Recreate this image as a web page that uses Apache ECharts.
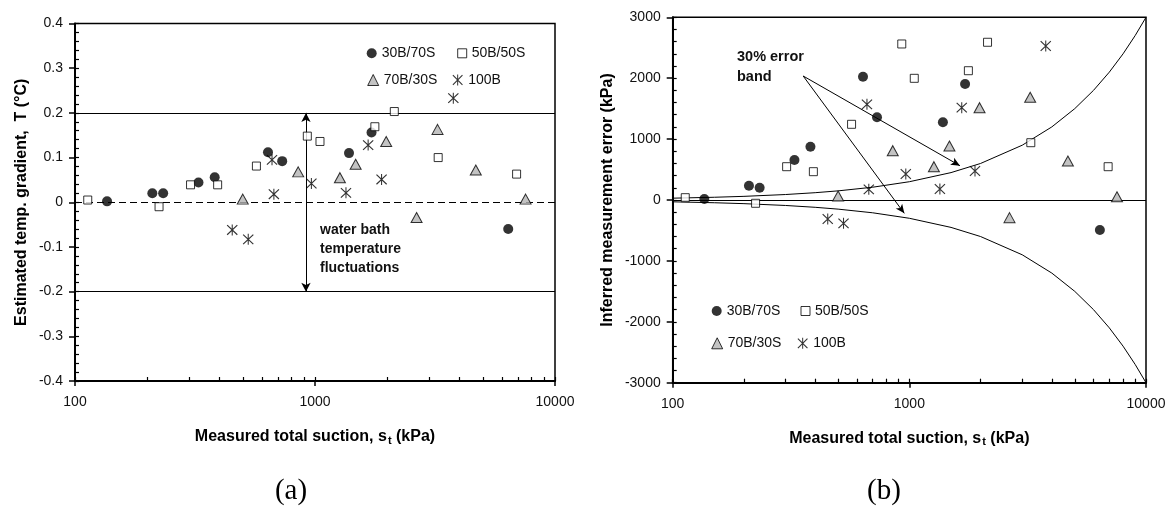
<!DOCTYPE html>
<html>
<head>
<meta charset="utf-8">
<script src="https://cdn.jsdelivr.net/npm/echarts@6/dist/echarts.min.js"></script>
<style>
  html, body { margin: 0; padding: 0; background: #fff; }
  #main { width: 1175px; height: 506px; }
</style>
</head>
<body>
<div id="main"></div>
<script>
// measured suction (kPa), shared by both panels
var circleX = [136, 210, 233, 327, 382, 637, 730, 1386, 1720, 6384];
var squareX = [113, 224, 303, 393, 570, 929, 1049, 1776, 2140, 3260, 6918];
var triangleX = [500, 851, 1270, 1477, 1980, 2650, 3240, 4677, 7540];
var starX = [452, 527, 662, 674, 966, 1346, 1665, 1894, 3770];

// (a) estimated temperature gradient (°C)
var circleT = [0.002, 0.02, 0.02, 0.044, 0.056, 0.112, 0.092, 0.11, 0.156, -0.06];
var squareT = [0.005, -0.01, 0.039, 0.039, 0.081, 0.148, 0.136, 0.169, 0.203, 0.1, 0.063];
var triangleT = [0.007, 0.068, 0.055, 0.085, 0.136, -0.034, 0.163, 0.072, 0.007];
var starT = [-0.062, -0.083, 0.095, 0.018, 0.042, 0.021, 0.128, 0.051, 0.233];

// (b) inferred measurement error (kPa)
var circleE = [16, 235, 202, 657, 875, 2025, 1358, 1276, 1905, -493];
var squareE = [38, -54, 547, 465, 1243, 2562, 1998, 2123, 2590, 941, 547];
var triangleE = [66, 810, 547, 887, 1516, -290, 1686, 640, 54];
var starE = [-312, -383, 1571, 175, 427, 181, 1516, 476, 2529];

// 30% error band
var bandX = [100, 150, 200, 300, 400, 500, 700, 1000, 1500, 2000, 3000, 4000, 5000, 6000, 7000, 8000, 9000, 10000];
var bandUpper = [30, 45, 60, 90, 120, 150, 210, 300, 450, 600, 900, 1200, 1500, 1800, 2100, 2400, 2700, 3000];
var bandLower = [-30, -45, -60, -90, -120, -150, -210, -300, -450, -600, -900, -1200, -1500, -1800, -2100, -2400, -2700, -3000];

var names = ['30B/70S', '50B/50S', '70B/30S', '100B'];
var majorX = [100, 1000, 10000];
var allX = [100, 200, 300, 400, 500, 600, 700, 800, 900, 1000, 2000, 3000, 4000, 5000, 6000, 7000, 8000, 9000, 10000];

var FONT = '"Liberation Sans", Arial, sans-serif';
var starPath = 'path://M9.1,0 L10.9,0 L10.9,20 L9.1,20 Z M0.6,2 L2,0.6 L19.4,18 L18,19.4 Z M18,0.6 L19.4,2 L2,19.4 L0.6,18 Z';

function zip(xs, ys) {
  return xs.map(function (x, i) { return [x, ys[i]]; });
}
function plain(v) { return String(v); }

var myChart = echarts.init(document.getElementById('main'));

var grids = [
  { left: 75, width: 480, top: 23.5, height: 357.5 },
  { left: 672.7, width: 473.3, top: 17.3, height: 365.4 }
];

function markerSeries(gi, ys) {
  var sets = [[circleX, ys[0]], [squareX, ys[1]], [triangleX, ys[2]], [starX, ys[3]]];
  var styles = [
    { symbol: 'circle', symbolSize: 10, itemStyle: { color: '#000' } },
    { symbol: 'rect', symbolSize: 8, itemStyle: { color: '#fff', borderColor: '#000', borderWidth: 1 } },
    { symbol: 'triangle', symbolSize: [11, 10], itemStyle: { color: '#b4b4b4', borderColor: '#000', borderWidth: 1 } },
    { symbol: starPath, symbolSize: 11, itemStyle: { color: '#000' } }
  ];
  return sets.map(function (s, i) {
    return Object.assign({
      name: names[i],
      type: 'scatter',
      xAxisIndex: gi,
      yAxisIndex: gi,
      z: 5,
      data: zip(s[0], s[1])
    }, styles[i]);
  });
}

function mainX(gi) {
  return {
    gridIndex: gi, type: 'log', logBase: 10, min: 100, max: 10000,
    axisLine: { onZero: false, lineStyle: { color: '#000', width: 2 } },
    axisTick: { customValues: majorX, length: 5, lineStyle: { color: '#000', width: 1.5 } },
    axisLabel: { customValues: majorX, formatter: plain, fontSize: 14, color: '#111', fontFamily: FONT, margin: 14 },
    splitLine: { show: false },
    name: '{b|Measured total suction, s}{s|t}{b| (kPa)}',
    nameLocation: 'middle',
    nameGap: 46,
    nameTextStyle: {
      rich: {
        b: { fontSize: 16, fontWeight: 'bold', fontFamily: FONT, color: '#000' },
        s: { fontSize: 11, fontWeight: 'bold', fontFamily: FONT, color: '#000', padding: [8, 0, 0, 1] }
      }
    }
  };
}
function overX(gi) {
  return {
    gridIndex: gi, type: 'log', logBase: 10, min: 100, max: 10000,
    axisLine: { show: false, onZero: false },
    axisTick: { inside: true, customValues: allX, length: 4, lineStyle: { color: '#000', width: 1.2 } },
    axisLabel: { show: false },
    splitLine: { show: false }
  };
}
function mainY(gi, min, max, interval, name, gap) {
  return {
    gridIndex: gi, type: 'value', min: min, max: max, interval: interval,
    axisLine: { show: true, onZero: false, lineStyle: { color: '#000', width: 2 } },
    axisTick: { show: true, length: 6, lineStyle: { color: '#000', width: 1.5 } },
    axisLabel: { formatter: plain, fontSize: 14, color: '#111', fontFamily: FONT, margin: 12 },
    splitLine: { show: false },
    name: name,
    nameLocation: 'middle',
    nameGap: gap,
    nameTextStyle: { fontSize: 16, fontWeight: 'bold', fontFamily: FONT, color: '#000' }
  };
}
function overY(gi, min, max, interval) {
  return {
    gridIndex: gi, type: 'value', min: min, max: max, interval: interval,
    axisLine: { show: false, onZero: false },
    axisTick: { show: true, inside: true, length: 4, lineStyle: { color: '#000', width: 1.2 } },
    minorTick: { show: true, splitNumber: 5, length: 4, lineStyle: { color: '#000', width: 1.2 } },
    axisLabel: { show: false },
    splitLine: { show: false }
  };
}

function legendAt(name, cx, cy, size) {
  return {
    data: [name],
    left: cx - size / 2,
    top: cy - 8,
    padding: 0,
    itemWidth: size,
    itemHeight: size,
    itemGap: 0,
    selectedMode: false,
    itemStyle: { borderWidth: 1 },
    textStyle: { fontSize: 14, color: '#111', fontFamily: FONT, lineHeight: 16 }
  };
}

var seriesA = markerSeries(0, [circleT, squareT, triangleT, starT]);
seriesA[0].markLine = {
  silent: true,
  symbol: ['none', 'none'],
  label: { show: false },
  lineStyle: { color: '#000', width: 1, type: 'solid' },
  data: [
    { yAxis: 0.2 },
    { yAxis: -0.2 },
    { yAxis: 0, lineStyle: { type: [7, 4], width: 1.2 } },
    [
      { coord: [917, 0.2], symbol: 'arrow', symbolSize: [7, 9] },
      { coord: [917, -0.2], symbol: 'arrow', symbolSize: [7, 9] }
    ]
  ]
};

var seriesB = markerSeries(1, [circleE, squareE, triangleE, starE]);
var bandStyle = {
  type: 'line', xAxisIndex: 1, yAxisIndex: 1, symbol: 'none', z: 2,
  lineStyle: { color: '#000', width: 1 }, silent: true
};
var upper = Object.assign({ name: 'band+', data: zip(bandX, bandUpper) }, bandStyle);
upper.markLine = {
  silent: true,
  symbol: ['none', 'none'],
  label: { show: false },
  lineStyle: { color: '#000', width: 1, type: 'solid' },
  data: [
    { yAxis: 0 },
    [{ coord: [356, 2036] }, { coord: [1636, 563], symbol: 'arrow', symbolSize: [6, 9] }],
    [{ coord: [356, 2036] }, { coord: [952, -219], symbol: 'arrow', symbolSize: [6, 9] }]
  ]
};
var lower = Object.assign({ name: 'band-', data: zip(bandX, bandLower) }, bandStyle);

var option = {
  animation: false,
  backgroundColor: '#fff',
  grid: [
    Object.assign({ show: true, borderColor: '#000', borderWidth: 1.5 }, grids[0]),
    Object.assign({ show: true, borderColor: '#000', borderWidth: 1.5 }, grids[1]),
    Object.assign({ show: false }, grids[0]),
    Object.assign({ show: false }, grids[1])
  ],
  xAxis: [mainX(0), mainX(1), overX(2), overX(3)],
  yAxis: [
    mainY(0, -0.4, 0.4, 0.1, 'Estimated temp. gradient,  T (°C)', 45),
    mainY(1, -3000, 3000, 1000, 'Inferred measurement error (kPa)', 57),
    overY(2, -0.4, 0.4, 0.1),
    overY(3, -3000, 3000, 1000)
  ],
  legend: [
    legendAt(names[0], 371.7, 53.3, 10),
    legendAt(names[1], 461.7, 53.3, 9),
    legendAt(names[2], 372.7, 80, 11),
    legendAt(names[3], 458, 80, 11),
    legendAt(names[0], 716.7, 311, 10),
    legendAt(names[1], 805, 311, 9),
    legendAt(names[2], 716.7, 343.3, 11),
    legendAt(names[3], 803, 343.3, 11)
  ],
  graphic: [
    { type: 'text', left: 320, top: 221, style: { text: 'water bath\ntemperature\nfluctuations', font: 'bold 14px ' + FONT, lineHeight: 19, fill: '#111' } },
    { type: 'text', left: 737, top: 47, style: { text: '30% error\nband', font: 'bold 14.5px ' + FONT, lineHeight: 20, fill: '#111' } },
    { type: 'text', x: 291, y: 491, style: { text: '(a)', font: '29px "Liberation Serif", "DejaVu Serif", serif', fill: '#000', align: 'center', verticalAlign: 'middle' } },
    { type: 'text', x: 884, y: 491, style: { text: '(b)', font: '29px "Liberation Serif", "DejaVu Serif", serif', fill: '#000', align: 'center', verticalAlign: 'middle' } }
  ],
  series: seriesA.concat(seriesB, [upper, lower])
};

myChart.setOption(option);
</script>
</body>
</html>
